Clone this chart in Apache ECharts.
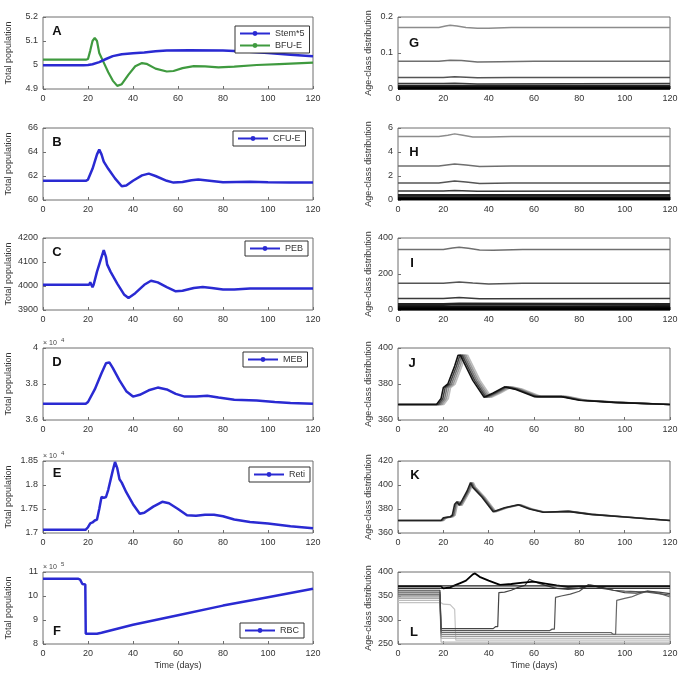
<!DOCTYPE html>
<html>
<head>
<meta charset="utf-8">
<script src="https://cdn.jsdelivr.net/npm/echarts@6/dist/echarts.min.js"></script>
<style>
  html, body { margin: 0; padding: 0; background: #fff; }
  #chart { width: 685px; height: 676px; }
</style>
</head>
<body>
<div id="chart"></div>
<script>
// ---- data (time in days) ----
const xTicks = [0, 20, 40, 60, 80, 100, 120];

// A: total population, Stem*5 and BFU-E
const stem5 = [[0,4.999],[18,4.999],[20,5.0],[22,5.003],[25,5.012],[28,5.025],[31,5.037],[35,5.045],[40,5.049],[45,5.052],[50,5.057],[55,5.06],[65,5.061],[80,5.06],[90,5.056],[100,5.05],[110,5.043],[120,5.036]];
const bfuE = [[0,5.022],[19,5.022],[20,5.025],[21,5.06],[22,5.1],[23,5.113],[24,5.1],[25,5.05],[27,5.01],[29,4.97],[31,4.935],[33,4.913],[35,4.92],[38,4.96],[41,4.995],[44,5.008],[46,5.005],[50,4.985],[55,4.973],[58,4.975],[62,4.987],[67,4.995],[72,4.994],[78,4.99],[85,4.993],[95,5.0],[105,5.004],[115,5.008],[120,5.01]];
// B: CFU-E
const cfuE = [[0,61.6],[19,61.6],[20,61.7],[22,62.6],[24,63.8],[25,64.2],[26,63.8],[27,63.2],[29,62.6],[32,61.8],[35,61.15],[37,61.2],[40,61.6],[44,62.05],[47,62.2],[50,62.0],[55,61.6],[58,61.45],[62,61.5],[66,61.65],[69,61.7],[74,61.6],[80,61.48],[86,61.5],[92,61.52],[100,61.48],[110,61.45],[120,61.45]];
// C: PEB
const peb = [[0,4005],[20.5,4005],[21,4015],[21.5,4005],[22,3995],[22.5,4005],[24,4060],[26,4120],[27,4150],[28,4120],[28.5,4090],[30,4060],[33,4010],[36,3965],[38,3950],[41,3970],[45,4005],[48,4022],[51,4015],[55,3995],[59,3978],[62,3980],[67,3992],[71,3996],[75,3992],[80,3985],[85,3985],[92,3990],[100,3990],[110,3990],[120,3990]];
// D: MEB (x 10^4)
const meb = [[0,3.69],[19,3.69],[20,3.70],[23,3.77],[26,3.86],[28,3.915],[29.5,3.92],[31,3.89],[34,3.82],[37,3.76],[40,3.73],[43,3.74],[47,3.765],[51,3.78],[55,3.77],[59,3.745],[63,3.73],[68,3.73],[73,3.735],[78,3.725],[85,3.713],[95,3.708],[103,3.70],[110,3.695],[120,3.69]];
// E: Reti (x 10^4)
const reti = [[0,1.707],[19,1.707],[20,1.712],[21,1.72],[22,1.722],[23,1.726],[24,1.728],[25,1.75],[26,1.775],[27,1.773],[28,1.775],[29,1.79],[31,1.83],[32,1.848],[33,1.835],[34,1.812],[35,1.805],[37,1.785],[40,1.76],[43,1.74],[45,1.742],[49,1.755],[53,1.765],[56,1.762],[60,1.75],[64,1.737],[68,1.736],[72,1.738],[76,1.738],[80,1.735],[85,1.728],[92,1.723],[100,1.72],[110,1.714],[120,1.71]];
// F: RBC (x 10^5)
const rbc = [[0,10.72],[15.5,10.72],[16.5,10.68],[17,10.6],[17.5,10.5],[18.8,10.48],[19,8.43],[24,8.43],[26,8.47],[40,8.8],[60,9.2],[80,9.6],[100,9.95],[120,10.3]];

// G: age classes of stem cells
const gLines = [
  [[0,0.171],[18,0.171],[21,0.175],[23,0.177],[26,0.175],[30,0.171],[35,0.169],[40,0.169],[50,0.171],[60,0.171],[120,0.171]],
  [[0,0.077],[18,0.077],[23,0.080],[28,0.079],[35,0.075],[45,0.076],[60,0.077],[120,0.077]],
  [[0,0.032],[20,0.032],[25,0.034],[35,0.031],[50,0.032],[120,0.032]],
  [[0,0.015],[20,0.015],[25,0.016],[35,0.014],[120,0.015]],
  [[0,0.008],[120,0.008]],
  [[0,0.004],[120,0.004]],
  [[0,0.0015],[120,0.0015]]
];
// H: age classes of BFU-E / CFU-E
const hLines = [
  [[0,5.29],[18,5.29],[22,5.4],[25,5.51],[28,5.42],[33,5.25],[40,5.26],[50,5.3],[60,5.29],[120,5.29]],
  [[0,2.84],[18,2.84],[25,3.0],[30,2.92],[36,2.8],[50,2.84],[120,2.84]],
  [[0,1.42],[18,1.42],[25,1.58],[30,1.5],[36,1.38],[50,1.42],[120,1.42]],
  [[0,0.74],[20,0.74],[25,0.8],[35,0.72],[120,0.74]],
  [[0,0.4],[120,0.4]],
  [[0,0.2],[120,0.2]],
  [[0,0.08],[120,0.08]]
];
// I: age classes of PEB
const iLines = [
  [[0,336],[20,336],[24,344],[27,349],[31,343],[36,333],[42,332],[55,336],[120,336]],
  [[0,149],[20,149],[27,155],[33,150],[40,145],[55,149],[120,149]],
  [[0,64],[20,64],[27,70],[36,62],[120,64]],
  [[0,30],[20,30],[27,33],[120,30]],
  [[0,15],[120,15]],
  [[0,6],[120,6]]
];
// J: age classes of MEB (same course, delayed)
const jLines = [
  [[0,368.6],[17,368.6],[19,372],[20,378],[22,380],[25,390],[26.5,396],[27.5,396],[33,382],[38,372.6],[42,375],[47,378.4],[52,377],[60,373],[72,373],[80,371],[95,369.8],[120,368.6]],
  [[0,368.6],[17.8,368.6],[19.8,372],[20.8,378],[22.8,380],[25.8,390],[27.3,396],[28.3,396],[33.8,382],[38.8,372.6],[42.8,375],[47.8,378.4],[52.8,377],[60.8,373],[72.8,373],[80.8,371],[95.8,369.8],[120,368.6]],
  [[0,368.6],[18.6,368.6],[20.6,372],[21.6,378],[23.6,380],[26.6,390],[28.1,396],[29.1,396],[34.6,382],[39.6,372.6],[43.6,375],[48.6,378.4],[53.6,377],[61.6,373],[73.6,373],[81.6,371],[96.6,369.8],[120,368.6]],
  [[0,368.6],[19.4,368.6],[21.4,372],[22.4,378],[24.4,380],[27.4,390],[28.9,396],[29.9,396],[35.4,382],[40.4,372.6],[44.4,375],[49.4,378.4],[54.4,377],[62.4,373],[74.4,373],[82.4,371],[97.4,369.8],[120,368.6]],
  [[0,368.6],[20.2,368.6],[22.2,372],[23.2,378],[25.2,380],[28.2,390],[29.7,396],[30.7,396],[36.2,382],[41.2,372.6],[45.2,375],[50.2,378.4],[55.2,377],[63.2,373],[75.2,373],[83.2,371],[98.2,369.8],[120,368.6]]
];
// K: age classes of reticulocytes
const kLines = [
  [[0,370.4],[19,370.4],[20,372.6],[23,373.5],[24,375],[25,384],[26,386],[27,383],[28.5,388],[30.5,395],[32,402],[33,398],[37,390],[42,377.8],[47,381],[53,383.6],[58,380],[64,377.3],[75,378],[85,375.5],[100,373.3],[120,370.4]],
  [[0,370.4],[19.6,370.4],[20.6,372.6],[23.6,373.5],[24.6,375],[25.6,384],[26.6,386],[27.6,383],[29.1,388],[31.1,395],[32.6,402],[33.6,398],[37.6,390],[42.6,377.8],[47.6,381],[53.6,383.6],[58.6,380],[64.6,377.3],[75.6,378],[85.6,375.5],[100.6,373.3],[120,370.4]],
  [[0,370.4],[20.2,370.4],[21.2,372.6],[24.2,373.5],[25.2,375],[26.2,384],[27.2,386],[28.2,383],[29.7,388],[31.7,395],[33.2,402],[34.2,398],[38.2,390],[43.2,377.8],[48.2,381],[54.2,383.6],[59.2,380],[65.2,377.3],[76.2,378],[86.2,375.5],[101.2,373.3],[120,370.4]]
];
// L: age classes of RBC
const lLines = [
  [[0,336],[19,336],[20,333],[23,332],[25,322],[25.5,258],[120,258]],
  [[0,341],[18.5,341],[19,254],[120,254]],
  [[0,345],[18.5,345],[19,262],[120,262]],
  [[0,348],[18.5,348],[19,266],[120,266]],
  [[0,352],[18.5,352],[19,270],[120,270]],
  [[0,354],[18.5,354],[19,274],[94,274],[95,270],[96,270],[96.5,341],[100,345],[103,348],[106,354],[110,360],[115,356],[120,348]],
  [[0,358],[18.5,358],[19,278],[67,278],[68,281],[69,281],[69.5,347],[72,350],[76,354],[80,360],[84,374],[86,372],[90,366],[95,362],[100,360],[110,358],[120,352]],
  [[0,362],[18.5,362],[19,282],[42,282],[43,286],[44,286],[44.5,357],[47,358],[50,362],[53,368],[56,372],[58,385],[60,380],[65,372],[70,366],[75,364],[80,366],[85,372],[90,368],[95,362],[100,357],[105,356],[110,360],[115,358],[120,355]],
  [[0,366],[120,366]],
  [[0,370],[19,370],[20,366],[23,368],[25,372],[28,378],[30,382],[33,395],[34,397],[36,390],[40,382],[45,373],[50,375],[55,378],[60,380],[65,376],[70,372],[75,369],[80,370],[90,370],[120,370]],
  [[0,371],[120,371]]
];

// ---- layout ----
const rowTops = [17, 128, 238, 348, 461, 572];
const panels = [
  // left column
  { left: 43,  top: rowTops[0], min: 4.9,  max: 5.2,  step: 0.1 },
  { left: 43,  top: rowTops[1], min: 60,   max: 66,   step: 2 },
  { left: 43,  top: rowTops[2], min: 3900, max: 4200, step: 100 },
  { left: 43,  top: rowTops[3], min: 3.6,  max: 4,    step: 0.2 },
  { left: 43,  top: rowTops[4], min: 1.7,  max: 1.85, step: 0.05 },
  { left: 43,  top: rowTops[5], min: 8,    max: 11,   step: 1, time: true },
  // right column
  { left: 398, top: rowTops[0], min: 0,    max: 0.2,  step: 0.1 },
  { left: 398, top: rowTops[1], min: 0,    max: 6,    step: 2 },
  { left: 398, top: rowTops[2], min: 0,    max: 400,  step: 200 },
  { left: 398, top: rowTops[3], min: 360,  max: 400,  step: 20 },
  { left: 398, top: rowTops[4], min: 360,  max: 420,  step: 20 },
  { left: 398, top: rowTops[5], min: 250,  max: 400,  step: 50, time: true }
];
const FONT = 'Liberation Sans, Arial, sans-serif';
const AXIS = '#6e6e6e';
const plainNum = v => String(Math.round(v * 10000) / 10000);

const grids = panels.map(p => ({
  left: p.left, top: p.top, width: p.left < 200 ? 270 : 272, height: 72,
  show: true, borderColor: AXIS, borderWidth: 1, backgroundColor: '#fff'
}));

const xAxes = panels.map((p, i) => ({
  type: 'value', gridIndex: i, min: 0, max: 120, interval: 20,
  axisLine: { show: false }, splitLine: { show: false },
  axisTick: { inside: true, length: 3, lineStyle: { color: AXIS } },
  axisLabel: { fontSize: 9, color: '#333', margin: 5, fontFamily: FONT, formatter: plainNum },
  name: p.time ? 'Time (days)' : '', nameLocation: 'middle', nameGap: 17,
  nameTextStyle: { fontSize: 9, color: '#333', fontFamily: FONT }
}));

const yAxes = panels.map((p, i) => ({
  type: 'value', gridIndex: i, min: p.min, max: p.max, interval: p.step,
  axisLine: { show: false }, splitLine: { show: false },
  axisTick: { inside: true, length: 3, lineStyle: { color: AXIS } },
  axisLabel: { fontSize: 9, color: '#333', margin: 5, fontFamily: FONT, formatter: plainNum },
  name: i < 6 ? 'Total population' : 'Age-class distribution',
  nameLocation: 'middle', nameGap: i < 6 ? 30 : 25,
  nameTextStyle: { fontSize: 9, color: '#333', fontFamily: FONT }
}));

function line(name, i, data, color, width, z) {
  return {
    name: name, type: 'line', xAxisIndex: i, yAxisIndex: i, data: data,
    symbol: 'circle', symbolSize: 4, showSymbol: false,
    lineStyle: { color: color, width: width }, itemStyle: { color: color },
    animation: false, silent: true, z: z || 2
  };
}

const BLUE = '#2a2ad2';
const series = [
  line('Stem*5', 0, stem5, BLUE, 2.5, 3),
  line('BFU-E', 0, bfuE, '#3f9a3f', 2.2, 2),
  line('CFU-E', 1, cfuE, BLUE, 2.5),
  line('PEB', 2, peb, BLUE, 2.5),
  line('MEB', 3, meb, BLUE, 2.5),
  line('Reti', 4, reti, BLUE, 2.5),
  line('RBC', 5, rbc, BLUE, 2.5)
];
const stackGrays = ['#8c8c8c', '#6f6f6f', '#555', '#3a3a3a', '#222', '#111', '#000'];
gLines.forEach((d, k) => series.push(line('g' + k, 6, d, stackGrays[k], k > 3 ? 2.5 : 1.5)));
hLines.forEach((d, k) => series.push(line('h' + k, 7, d, stackGrays[k], k > 3 ? 2.5 : 1.5)));
iLines.forEach((d, k) => series.push(line('i' + k, 8, d, stackGrays[k + 1], k > 2 ? 3 : 1.5)));
const bandGrays = ['#111', '#444', '#777', '#9a9a9a', '#bdbdbd'];
jLines.slice().reverse().forEach((d, k) => series.push(line('j' + k, 9, d, bandGrays[4 - k], 1.6)));
const kGrays = ['#222', '#666', '#aaa'];
kLines.slice().reverse().forEach((d, k) => series.push(line('k' + k, 10, d, kGrays[2 - k], 1.6)));
const lGrays = ['#c4c4c4', '#bbb', '#aaa', '#999', '#888', '#666', '#555', '#444', '#333', '#000', '#222'];
lLines.forEach((d, k) => series.push(line('l' + k, 11, d, lGrays[k], k === 9 ? 1.8 : 1.2)));

function legendBox(names, left, top) {
  return {
    data: names, left: left, top: top, orient: 'vertical',
    itemWidth: 30, itemHeight: 6, itemGap: 3,
    padding: [3, 5, 3, 4], borderColor: '#333', borderWidth: 1,
    backgroundColor: '#fff', selectedMode: false,
    textStyle: { fontSize: 9, color: '#333', fontFamily: FONT }
  };
}
const legends = [
  legendBox(['Stem*5', 'BFU-E'], 235, 26),
  legendBox(['CFU-E'], 233, 131),
  legendBox(['PEB'], 245, 241),
  legendBox(['MEB'], 243, 352),
  legendBox(['Reti'], 249, 467),
  legendBox(['RBC'], 240, 623)
];

const letters = [['A', 57, 31], ['B', 57, 142], ['C', 57, 252], ['D', 57, 362], ['E', 57, 473], ['F', 57, 631],
                 ['G', 414, 43], ['H', 414, 152], ['I', 412, 263], ['J', 412, 363], ['K', 415, 475], ['L', 414, 632]];
const graphics = letters.map(l => ({
  type: 'text', x: l[1], y: l[2], z: 100,
  style: { text: l[0], font: 'bold 13px ' + FONT, fill: '#111', align: 'center', verticalAlign: 'middle' }
}));
[['4', 43, 340], ['4', 43, 453], ['5', 43, 564]].forEach(e => {
  graphics.push({ type: 'text', x: e[1], y: e[2], z: 100,
    style: { text: '\u00d7 10', font: '7px ' + FONT, fill: '#444' } });
  graphics.push({ type: 'text', x: e[1] + 18, y: e[2] - 3, z: 100,
    style: { text: e[0], font: '6px ' + FONT, fill: '#444' } });
});

const chart = echarts.init(document.getElementById('chart'));
chart.setOption({
  animation: false,
  backgroundColor: '#fff',
  textStyle: { fontFamily: FONT },
  grid: grids,
  xAxis: xAxes,
  yAxis: yAxes,
  legend: legends,
  series: series,
  graphic: graphics
});
</script>
</body>
</html>
